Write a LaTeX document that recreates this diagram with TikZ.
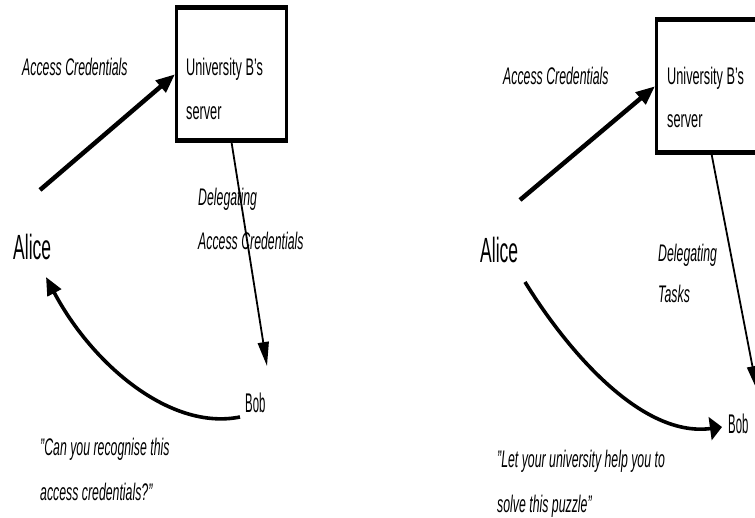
\documentclass[tikz,border=0pt]{standalone}
\usepackage{fontspec}
\setmainfont{Liberation Sans}
\usepackage{graphicx}
\usetikzlibrary{arrows.meta}
\newcommand\sx[2][0.513]{\scalebox{#1}[1]{#2}}
\newcommand\twol[3]{\vtop{\baselineskip=#1pt\lineskiplimit=-100pt\hbox{#2}\hbox{#3}}}
\tikzset{
  lab/.style={inner sep=0pt, anchor=base west, font=\fontsize{24}{28}\selectfont\itshape},
  txt/.style={inner sep=0pt, anchor=base west, font=\fontsize{24}{28}\selectfont},
  big/.style={inner sep=0pt, anchor=base west, font=\fontsize{35}{40}\selectfont},
  bobtxt/.style={inner sep=0pt, anchor=base west, font=\fontsize{27}{31}\selectfont},
  srv/.style={draw, line width=2.5pt, minimum width=110pt, minimum height=130pt, anchor=north west, inner sep=0pt},
  bar/.style={line width=5pt},
  thickarrow/.style={line width=4.5pt, -{Triangle[length=19pt,width=15pt]}},
  thinarrow/.style={line width=1.8pt, -{Triangle[length=24pt,width=11pt]}},
  curvearrow/.style={line width=3.6pt, -{Triangle[length=18pt,width=15pt]}},
  curvearrowB/.style={line width=3.6pt, -{Triangle[length=12pt,width=23pt]}}
}
\begin{document}
\begin{tikzpicture}[x=1pt,y=-1pt]
\clip (0,0) rectangle (755,518);
\fill[white] (0,0) rectangle (755,518);
% ---------- left panel ----------
\node[srv] (boxL) at (175,8) {};
\draw[bar] (boxL.north west) -- (boxL.north east);
\draw[bar] (boxL.south west) -- (boxL.south east);
\node[txt] (srvtL) at (186,76) {\twol{44}{\sx[0.53]{University B’s}}{\sx[0.53]{server}}};
\node[lab] (acL) at (22,76) {\sx{Access Credentials}};
\node[big] (aliceL) at (13,260) {\sx[0.5]{Alice}};
\node[bobtxt] (bobL) at (245,413) {\sx[0.42]{Bob}};
\node[lab] (delL) at (198,206) {\twol{44}{\sx{Delegating}}{\sx{Access Credentials}}};
\node[lab] (qL) at (40,455) {\twol{45}{\sx{"Can you recognise this}}{\sx{access credentials?"}}};
\coordinate (aLs) at (40,190);
\coordinate (bLt) at (267,366);
\coordinate (cLs) at (240,417);
\coordinate (cLt) at (46,277);
\draw[thickarrow] (aLs) -- (boxL.west);
\draw[thinarrow] (boxL.south) -- (bLt);
\draw[curvearrow] (cLs) .. controls (170,431) and (92,364) .. (cLt);
% ---------- right panel ----------
\node[srv] (boxR) at (655,20) {};
\draw[bar] (boxR.north west) -- (boxR.north east);
\draw[bar] (boxR.south west) -- (boxR.south east);
\node[txt] (srvtR) at (667,85) {\twol{43}{\sx[0.53]{University B’s}}{\sx[0.53]{server}}};
\node[lab] (acR) at (503,85) {\sx{Access Credentials}};
\node[big] (aliceR) at (480,263) {\sx[0.5]{Alice}};
\node[bobtxt] (bobR) at (728,433) {\sx[0.42]{Bob}};
\node[lab] (delR) at (658,262) {\twol{41}{\sx{Delegating}}{\sx{Tasks}}};
\node[lab] (qR) at (497,467) {\twol{45}{\sx{"Let your university help you to}}{\sx{solve this puzzle"}}};
\coordinate (aRs) at (520,200);
\coordinate (bRt) at (757,390);
\coordinate (cRs) at (525,282);
\coordinate (cRt) at (722,427);
\draw[thickarrow] (aRs) -- (boxR.west);
\draw[thinarrow] (boxR.south) -- (bRt);
\draw[curvearrowB] (cRs) .. controls (565,347) and (640,438) .. (cRt);
\end{tikzpicture}
\end{document}
